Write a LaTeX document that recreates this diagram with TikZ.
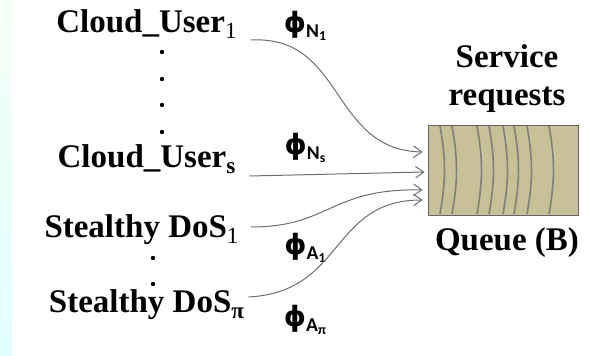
\documentclass[tikz,border=0pt]{standalone}
\usepackage{fontspec}
\setmainfont{LiberationSerif}[Extension=.ttf, UprightFont=*-Regular, BoldFont=*-Bold]
\newfontfamily\phifont{Carlito}
\newfontfamily\phisym{DejaVu Sans}
\usetikzlibrary{arrows.meta,calc}

\definecolor{queuetan}{RGB}{200,192,150}
\definecolor{flowgray}{RGB}{110,110,110}

\begin{document}
\begin{tikzpicture}[x=0.5pt, y=-0.5pt,
  source/.style={font=\fontsize{16.5}{19}\selectfont\bfseries, anchor=base, inner sep=0pt},
  rate/.style={font=\phifont\fontsize{14}{16}\selectfont\bfseries, inner sep=0pt},
  flow/.style={-{Straight Barb[angle=70:5pt]}, draw=flowgray, line width=0.5pt},
  buffer/.style={draw=black!60, fill=queuetan, minimum width=75pt, minimum height=45pt, inner sep=0pt}
]
\useasboundingbox (0,0) rectangle (589,356);
\fill[top color=green!4, bottom color=cyan!12] (0,0) rectangle (12,356);

% sources
\node[source] (cu1) at (147,33) {Cloud\_User\textsubscript{\mdseries 1}};
\node[source] (cus) at (147,168) {Cloud\_User\textsubscript{s}};
\node[source] (dos1) at (142,238) {Stealthy DoS\textsubscript{\mdseries 1}};
\node[source] (dosp) at (147,313) {Stealthy DoS\textsubscript{π}};
\foreach \y in {52,79,105,132} \fill (162,\y) circle (2.2);
\foreach \y in {258,284} \fill (153,\y) circle (2.2);

% rates
\node[rate] (phin1) at (306,26) {{\phisym\bfseries ϕ}\textsubscript{N\textsubscript{1}}};
\node[rate] (phins) at (306,148) {{\phisym\bfseries ϕ}\textsubscript{N\textsubscript{s}}};
\node[rate] (phia1) at (306,248) {{\phisym\bfseries ϕ}\textsubscript{A\textsubscript{1}}};
\node[rate] (phiap) at (306,320) {{\phisym\bfseries ϕ}\textsubscript{A\textsubscript{π}}};

% queue
\node[buffer] (queue) at (503,170) {};
\foreach \x in {440,452,477,489,503,514,527,549}
  \draw[black!50, line width=0.8pt] (\x,126) to[bend left=10] (\x,214);
\node[source, anchor=center, align=center] (req) at (507,79) {Service\\requests};
\node[source, anchor=center] (qlab) at (507,243) {Queue (B)};

% flows
\draw[flow] ($(cu1.base east)+(13,7)$) .. controls (345,35) and (330,150) .. ($(queue.west)+(-5,-18)$);
\draw[flow] ($(cus.base east)+(13,8)$) -- ($(queue.west)+(-3,2)$);
\draw[flow] ($(dos1.base east)+(11,-11)$) .. controls (330,227) and (330,188) .. ($(queue.west)+(-5,20)$);
\draw[flow] ($(dosp.base east)+(3,-16)$) .. controls (345,292) and (330,200) .. ($(queue.west)+(-5,30)$);
\end{tikzpicture}
\end{document}
